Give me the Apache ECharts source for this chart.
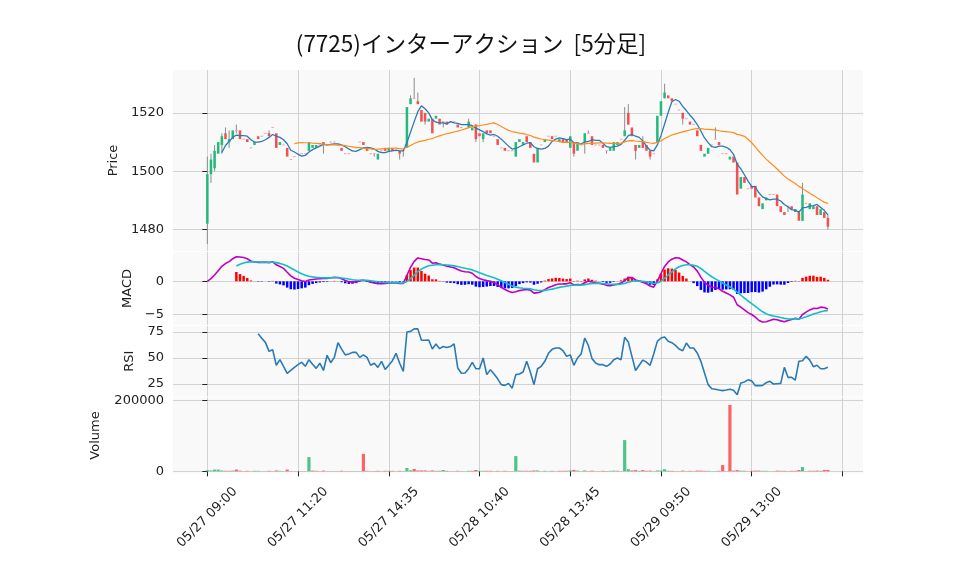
<!DOCTYPE html>
<html>
<head>
<meta charset="utf-8">
<script src="https://cdn.jsdelivr.net/npm/echarts@6/dist/echarts.min.js"></script>
<style>html,body{margin:0;padding:0;background:#fff;}#c{width:958px;height:575px;}</style>
</head>
<body>
<div id="c"></div>
<script>
// ---- data (5-minute bars, index 0..171) ----
const tickLabels = ['05/27 09:00','05/27 11:20','05/27 14:35','05/28 10:40','05/28 13:45','05/29 09:50','05/29 13:00'];
const barsPerTick = 25;

const opens = [
1482,1499,1501,1506,1509,1513,1510,1511,1514,1514, // 0
1511,1511,1508,1509,1512,1512,1513,1513,1515,1513, // 10
1509,1509,1508,1504,1505,1506,1506,1506,1507,1508, // 20
1508,1509,1510,1509,1510,1510,1509,1508,1506,1506, // 30
1507,1508,1510,1510,1508,1506,1506,1504,1507,1508, // 40
1507,1508,1507,1507,1507,1508,1523,1525,1524,1521, // 50
1520,1517,1518,1518,1518,1517,1517,1517,1517,1516, // 60
1515,1516,1515,1514,1516,1513,1511,1514,1514,1512, // 70
1511,1508,1508,1507,1507,1505,1510,1509,1512,1510, // 80
1506,1503,1509,1510,1512,1512,1512,1510,1511,1511, // 90
1508,1510,1507,1509,1510,1513,1512,1509,1509,1509, // 100
1507,1507,1507,1509,1511,1512,1520,1515,1509,1508, // 110
1510,1509,1507,1506,1510,1519,1525,1526,1525,1523, // 120
1521,1520,1518,1517,1516,1514,1509,1505,1506,1509, // 130
1511,1510,1506,1506,1504,1505,1503,1494,1498,1494, // 140
1495,1495,1491,1487,1490,1492,1492,1492,1488,1486, // 150
1488,1488,1486,1486,1483,1489,1487,1487,1488,1485, // 160
1486,1484                                          // 170
];
const closes = [
1499,1504,1507,1510,1512,1511,1511,1514,1514,1511,
1511,1510,1508,1510,1511,1512,1513,1512,1515,1508,
1510,1509,1505,1504,1505,1506,1506,1506,1510,1509,
1509,1509,1509,1509,1510,1510,1509,1507,1506,1506,
1507,1508,1510,1509,1507,1506,1506,1506,1507,1507,
1508,1507,1507,1506,1507,1522,1525,1525,1523,1517,
1517,1518,1513,1519,1516,1517,1516,1517,1517,1515,
1515,1516,1517,1515,1511,1512,1513,1513,1513,1512,
1509,1508,1507,1507,1507,1510,1511,1510,1510,1508,
1503,1508,1509,1511,1512,1511,1512,1511,1510,1510,
1512,1506,1510,1509,1513,1513,1509,1509,1509,1508,
1507,1508,1510,1510,1511,1514,1516,1512,1507,1509,
1508,1507,1505,1506,1519,1524,1527,1525,1524,1523,
1521,1518,1518,1516,1516,1512,1507,1506,1508,1509,
1511,1509,1506,1506,1505,1503,1492,1498,1496,1494,
1494,1491,1488,1489,1491,1492,1492,1488,1486,1485,
1488,1487,1487,1483,1492,1489,1489,1488,1485,1487,
1484,1481
];
const lows = [
1475,1496,1500,1506,1506,1511,1508,1511,1513,1511,
1511,1510,1508,1509,1511,1512,1513,1512,1515,1508,
1509,1509,1505,1504,1505,1506,1506,1506,1507,1508,
1508,1509,1506,1509,1510,1510,1509,1507,1506,1506,
1507,1508,1510,1509,1507,1506,1505,1504,1507,1507,
1507,1507,1507,1504,1505,1508,1523,1525,1523,1517,
1516,1517,1513,1518,1516,1515,1516,1517,1517,1515,
1515,1516,1515,1514,1510,1512,1510,1513,1513,1512,
1509,1508,1507,1507,1507,1505,1510,1509,1510,1508,
1503,1503,1509,1510,1512,1511,1512,1510,1510,1510,
1508,1505,1507,1509,1506,1513,1509,1509,1509,1508,
1506,1507,1507,1509,1511,1512,1516,1512,1504,1508,
1508,1507,1504,1506,1510,1519,1525,1525,1524,1523,
1521,1516,1518,1516,1516,1512,1507,1505,1506,1509,
1511,1509,1506,1506,1504,1503,1492,1494,1496,1494,
1494,1491,1488,1487,1490,1492,1492,1488,1486,1485,
1486,1487,1486,1483,1483,1489,1487,1487,1485,1485,
1484,1480
];
const highs = [
1505,1506,1509,1510,1513,1515,1514,1514,1516,1514,
1511,1511,1508,1510,1512,1512,1513,1514,1515,1513,
1510,1509,1508,1504,1505,1506,1506,1506,1510,1509,
1509,1509,1510,1509,1510,1510,1509,1508,1506,1506,
1507,1508,1510,1510,1508,1506,1506,1506,1507,1508,
1508,1508,1507,1507,1508,1522,1526,1532,1527,1521,
1520,1518,1518,1519,1518,1517,1517,1517,1517,1516,
1515,1516,1518,1515,1516,1513,1513,1514,1514,1512,
1511,1508,1508,1507,1507,1510,1511,1510,1512,1510,
1506,1508,1509,1511,1512,1512,1512,1511,1511,1511,
1512,1510,1510,1509,1513,1514,1512,1509,1509,1509,
1507,1508,1510,1510,1511,1522,1523,1515,1509,1509,
1512,1509,1507,1506,1519,1524,1530,1526,1525,1523,
1521,1520,1518,1517,1516,1514,1509,1506,1508,1509,
1515,1510,1506,1506,1505,1505,1503,1498,1498,1494,
1495,1495,1491,1489,1491,1492,1492,1492,1488,1486,
1488,1488,1487,1486,1496,1489,1489,1488,1488,1487,
1486,1485
];
const volumes = [
3000,2500,5000,5000,2500,1500,1500,2000,5000,2000,
500,1500,500,1500,1500,500,500,1500,500,2500,
1500,500,5000,500,500,500,500,500,40000,2000,
1500,500,2000,500,500,500,500,1500,500,500,
500,500,500,49000,1500,500,800,1500,500,1500,
1500,1500,500,1500,800,9400,3000,6600,2500,2500,
2500,1500,2500,1500,1500,3700,1500,500,500,1500,
500,500,1500,1500,3700,1500,1500,1500,1500,500,
1500,500,1500,500,500,43000,2000,1500,1500,1500,
2500,2500,500,1500,500,1500,500,1500,1500,1500,
2500,4000,2000,500,2500,800,2000,500,500,1500,
800,1500,2000,1500,500,88000,6000,2500,3500,1500,
3500,1500,2000,500,2500,2500,6000,1500,1500,500,
500,2000,500,1500,500,2000,2000,1500,1500,500,
800,1500,18000,500,187000,2000,3500,2000,1500,500,
1500,2000,2000,1500,1500,500,500,2000,1500,1500,
800,1500,1500,3500,12000,500,1500,1500,2000,1500,
4000,4000
];
// RSI(14) as drawn, starting at bar 14
const rsiStart = 14;
const rsiValues = [
73.4,69,65,56.4,58,43,48.4,42,35.3,38,41,43.6,46,42,48.4,44,40,45,38,52.6, // 14-33
45.5,50.6,64.7,58.6,53,53.8,55.4,55.4,50.6,53,50.6,43,45,41,46.8,39,43,47.4,54.5,45, // 34-53
37,75,75.6,78,78,67,67,67.3,58.6,63.5,59,61,60,61,63.5,40.4,35.3,35.6,39.7,45.8, // 54-73
39.7,39.7,50,34,38.8,34.6,30,24.4,23.7,25.6,21,34,34.6,36.5,46.8,36.5,24.4,39.7,42,46.8, // 74-93
54.5,58.3,59.6,59.6,57,51.6,53,43,50,53.8,69.2,62,49.4,45.2,43.6,43.6,42,44.2,48.4,50, // 94-113
48.4,69.9,65.4,51.6,38,43,48,46,43,53.8,66,69.2,70.2,66,64.7,62.2,58.7,57,64.4,59.6, // 114-133
59.6,54.8,46.8,35.6,24.4,20.5,20,19.2,18.6,19.2,20,19,14.7,26,27,29,28,23.4,23.4,23.7, // 134-153
26.3,27.6,25,25.3,25.6,41,31.4,31.4,28.8,46.8,47.4,51.6,48,41.7,43,39.7,39.7,41 // 154-171
];

// ---- derived series ----
const N = closes.length;
function sma(arr, n) {
  const out = [];
  for (let i = n - 1; i < arr.length; i++) {
    let s = 0; for (let j = i - n + 1; j <= i; j++) s += arr[j];
    out.push([i, s / n]);
  }
  return out;
}
function ema(arr, n) {
  const k = 2 / (n + 1), out = [arr[0]];
  for (let i = 1; i < arr.length; i++) out.push(arr[i] * k + out[i - 1] * (1 - k));
  return out;
}
const e12 = ema(closes, 12), e26 = ema(closes, 26);
const macd = closes.map((_, i) => e12[i] - e26[i]);
const sig = ema(macd, 9);
const macdLine = macd.map((v, i) => [i, v]);
const sigLine = [], hist = [];
for (let i = 8; i < N; i++) {
  sigLine.push([i, sig[i]]);
  const h = macd[i] - sig[i];
  hist.push({value: [i, h], itemStyle: {color: h >= 0 ? '#ff0000' : '#0000ff'}});
}
const candles = opens.map((o, i) => [i, o, closes[i], lows[i], highs[i]]);
const volData = volumes.map((v, i) => ({
  value: [i, v],
  itemStyle: {color: (i === 0 || closes[i] > closes[i - 1]) ? '#4cc48c' : '#fb6464'}
}));
const rsiLine = rsiValues.map((v, k) => [rsiStart + k, v]);

// ---- layout ----
const L = 173, W = 690;
const XMIN = -9.46, XMAX = 180.67;
const tickVals = [], labelVals = [];
for (let k = 0; k <= tickLabels.length; k++) tickVals.push(k * barsPerTick);
for (let k = 0; k < tickLabels.length; k++) labelVals.push(k * barsPerTick);

const UP = '#26b97c', DOWN = '#f25151', DOJI = '#f6a0a0', WICK = '#8c8c8c';
const FONT = 'DejaVu Sans';
const gridLine = {show: true, lineStyle: {color: '#d2d2d2', width: 1}};

function xAx(idx, bottom) {
  return {
    type: 'value', gridIndex: idx, min: XMIN, max: XMAX,
    axisLine: {show: false},
    axisTick: {show: bottom, customValues: tickVals, length: 5, lineStyle: {color: '#222'}},
    axisLabel: {show: bottom, customValues: labelVals, rotate: 45, fontSize: 13, color: '#222', fontFamily: FONT,
      margin: 44, align: 'center', verticalAlign: 'middle',
      formatter: v => tickLabels[Math.round(v / barsPerTick)] || ''},
    splitLine: gridLine
  };
}
function yAx(idx, min, max, ticks, name, gap, fmt) {
  return {
    type: 'value', gridIndex: idx, min: min, max: max, scale: true,
    name: name, nameLocation: 'middle', nameGap: gap, nameRotate: 90,
    nameTextStyle: {fontSize: 13, color: '#222', fontFamily: FONT},
    axisLine: {show: false},
    axisTick: {show: true, customValues: ticks, length: 5, lineStyle: {color: '#222'}},
    axisLabel: {customValues: ticks, fontSize: 13, color: '#222', fontFamily: FONT, margin: 9,
      formatter: fmt || (v => String(v))},
    splitLine: gridLine
  };
}

function renderCandle(params, api) {
  const x = api.value(0), o = api.value(1), c = api.value(2), l = api.value(3), h = api.value(4);
  const pH = api.coord([x, h]), pL = api.coord([x, l]), pO = api.coord([x, o]), pC = api.coord([x, c]);
  const w = api.size([1, 0])[0] * 0.7;
  const ch = [];
  if (h > Math.max(o, c) || l < Math.min(o, c)) {
    ch.push({type: 'line', shape: {x1: pH[0], y1: pH[1], x2: pL[0], y2: pL[1]}, style: {stroke: WICK, lineWidth: 1}});
  }
  if (o === c) {
    ch.push({type: 'line', shape: {x1: pO[0] - w / 2, y1: pO[1], x2: pO[0] + w / 2, y2: pO[1]}, style: {stroke: DOJI, lineWidth: 1}});
  } else {
    ch.push({type: 'rect', shape: {x: pO[0] - w / 2, y: Math.min(pO[1], pC[1]), width: w, height: Math.abs(pO[1] - pC[1])},
      style: {fill: c > o ? UP : DOWN}});
  }
  return {type: 'group', children: ch};
}

const chart = echarts.init(document.getElementById('c'), null, {renderer: 'canvas'});
chart.setOption({
  animation: false,
  backgroundColor: '#ffffff',
  title: {text: '(7725)インターアクション  [5分足]', left: 466, top: 27, textAlign: 'center',
    textStyle: {fontSize: 22.5, fontWeight: 'normal', color: '#111', fontFamily: 'Noto Sans CJK JP'}},
  grid: [
    {left: L, width: W, top: 70, height: 181, show: true, backgroundColor: '#f9f9f9', borderWidth: 0},
    {left: L, width: W, top: 252, height: 73, show: true, backgroundColor: '#f9f9f9', borderWidth: 0},
    {left: L, width: W, top: 326, height: 70.5, show: true, backgroundColor: '#f9f9f9', borderWidth: 0},
    {left: L, width: W, top: 397.5, height: 76, show: true, backgroundColor: '#f9f9f9', borderWidth: 0}
  ],
  xAxis: [xAx(0, false), xAx(1, false), xAx(2, false), xAx(3, true)],
  yAxis: [
    yAx(0, 1472.65, 1534.7, [1480, 1500, 1520], 'Price', 50),
    yAx(1, -6.55, 4.4, [-5, 0], 'MACD', 36, v => v < 0 ? '\u2212' + Math.abs(v) : String(v)),
    yAx(2, 12.98, 80.77, [25, 50, 75], 'RSI', 36),
    yAx(3, -6113, 207980, [0, 200000], 'Volume', 71)
  ],
  series: [
    {type: 'custom', xAxisIndex: 0, yAxisIndex: 0, renderItem: renderCandle, data: candles,
      encode: {x: 0, y: [1, 2, 3, 4]}, clip: true, z: 2},
    {type: 'line', xAxisIndex: 0, yAxisIndex: 0, data: sma(closes, 5), showSymbol: false,
      lineStyle: {color: '#2a7ab8', width: 1.3}, z: 3},
    {type: 'line', xAxisIndex: 0, yAxisIndex: 0, data: sma(closes, 25), showSymbol: false,
      lineStyle: {color: '#ff8c1a', width: 1.2}, z: 3},
    {type: 'bar', xAxisIndex: 1, yAxisIndex: 1, data: hist, barWidth: 2.5, z: 2},
    {type: 'line', xAxisIndex: 1, yAxisIndex: 1, data: macdLine, showSymbol: false,
      lineStyle: {color: '#c000c0', width: 1.6}, z: 3},
    {type: 'line', xAxisIndex: 1, yAxisIndex: 1, data: sigLine, showSymbol: false,
      lineStyle: {color: '#10c0c8', width: 1.6}, z: 3},
    {type: 'line', xAxisIndex: 2, yAxisIndex: 2, data: rsiLine, showSymbol: false,
      lineStyle: {color: '#2a7ab8', width: 1.6}, z: 3},
    {type: 'bar', xAxisIndex: 3, yAxisIndex: 3, data: volData, barWidth: 3.2, z: 2}
  ]
});
</script>
</body>
</html>
